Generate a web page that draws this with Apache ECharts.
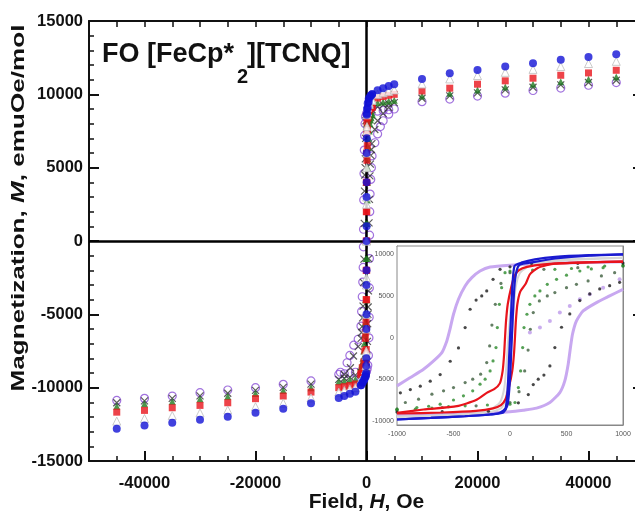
<!DOCTYPE html>
<html><head><meta charset="utf-8">
<script src="https://cdn.jsdelivr.net/npm/echarts@6/dist/echarts.min.js"></script>
<style>html,body{margin:0;padding:0;background:#fff}#c{width:635px;height:512px}</style>
</head><body><div id="c"></div><script>
// ---------- main chart: fields shared by all temperatures (Oe) ----------
const H_HIGH = [-45000,-40000,-35000,-30000,-25000,-20000,-15000,-10000,-5000,-4000,-3000,-2000,
                 2000,3000,4000,5000,10000,15000,20000,25000,30000,35000,40000,45000];
// magnetization at those fields (emuOe/mol)
const M_BLUE   = [-12800,-12580,-12400,-12190,-11990,-11710,-11440,-11070,-10700,-10560,-10420,-10280,
                   10280,10420,10560,10690,11050,11440,11660,11890,12120,12350,12550,12730];
const M_PALE   = [-12280,-12100,-11900,-11720,-11520,-11300,-11050,-10700,-10300,-10200,-10100,-10000,
                   10000,10100,10200,10300,10700,11050,11280,11500,11700,11900,12100,12250];
const M_RED    = [-11670,-11550,-11370,-11210,-11030,-10750,-10570,-10300,-10000,-9930,-9850,-9750,
                   9750,9850,9930,10000,10230,10420,10690,10920,11100,11300,11460,11640];
const M_GREEN  = [-11260,-11100,-10940,-10780,-10600,-10400,-10200,-10000,-9600,-9540,-9480,-9420,
                   9420,9480,9540,9600,9890,10080,10300,10500,10680,10850,11020,11190];
const M_BLACK  = [-11030,-10900,-10730,-10560,-10380,-10180,-9980,-9760,-9430,-9360,-9280,-9150,
                   9150,9280,9360,9430,9730,9900,10100,10300,10480,10650,10810,10960];
const M_PURPLE = [-10870,-10730,-10570,-10340,-10160,-10000,-9770,-9540,-9100,-9050,-9000,-8950,
                   8850,8900,8950,9000,9500,9680,9880,10080,10260,10430,10620,10800];
// return-branch points at intermediate fields [H, M]
const MID_PURPLE = [[1500,6700],[2000,7300],[2500,7800],[3000,8200],[4000,8650],
                    [-1500,-6700],[-2300,-7100],[-3000,-7800],[-3500,-8300],[-4700,-8950]];
const MID_BLACK  = [[1500,7600],[2000,8200],[3000,8700],[4000,9100],
                    [-1500,-7200],[-2350,-7840],[-2900,-8640],[-4000,-9100]];

// ---------- low-field loops (inset), [H, M] ----------
const LAV_UP = [[1000,9100],[600,9000],[300,8900],[0,8700],[-176,8480],[-265,8000],[-338,7200],[-397,6200],
  [-456,4600],[-500,2800],[-535,800],[-559,-400],[-603,-1800],[-676,-2800],[-765,-3800],[-882,-4800],[-1000,-5800]];
const LAV_DOWN = [[-1000,-9300],[-600,-9200],[-300,-9100],[0,-8900],[118,-8720],[235,-8480],[353,-7800],[441,-6600],
  [485,-5200],[515,-3200],[535,-1200],[553,400],[588,2000],[647,3200],[765,4200],[882,5000],[1000,5800]];
const LAV_SPARSE = [[176,600],[265,1200],[353,2000],[441,3000],[529,3800],[618,4600],[706,5200],[824,6000],[970,7000]];
const BLACK_UP = [[1000,8950],[600,8920],[191,8900],[0,8500],[-88,8200],[-150,7000],[-206,5600],[-250,5000],
  [-300,4500],[-353,3400],[-397,1200],[-456,-1240],[-529,-2840],[-618,-4440],[-706,-5240],[-794,-5840],[-882,-6240],[-970,-6640]];
const BLACK_DOWN = [[-1000,-8950],[-600,-8900],[-191,-8850],[-44,-8640],[74,-7840],[162,-6840],[206,-5640],[250,-5000],
  [300,-4500],[353,-3400],[397,-1200],[456,1240],[529,2840],[618,4440],[706,5240],[794,5840],[882,6240],[970,6640]];
const GREEN_UP = [[1000,8720],[838,8600],[691,8480],[544,8300],[397,8200],[200,8100],[0,8000],[-44,7800],[-74,6000],
  [-94,4000],[-112,1200],[-124,-1200],[-150,-2800],[-176,-4000],[-220,-5000],[-265,-5600],[-330,-6400],[-412,-7000],
  [-500,-7500],[-618,-8000],[-720,-8250],[-824,-8400],[-1000,-8600]];
const GREEN_DOWN = [[-1000,-8720],[-838,-8600],[-691,-8480],[-544,-8300],[-397,-8200],[-200,-8100],[0,-8000],[44,-7800],
  [74,-6000],[94,-4000],[112,-1200],[124,1200],[150,2800],[176,4000],[220,5000],[265,5600],[330,6400],[412,7000],
  [500,7500],[618,8000],[720,8250],[824,8400],[1000,8600]];
const GREEN2_UP = [[1000,8600],[600,8400],[300,8200],[0,7800],[-80,6500],[-130,4000],[-160,1500],[-180,-1000],[-206,-3000],
  [-260,-4400],[-330,-5000],[-397,-5400],[-500,-6000],[-588,-6400],[-691,-6800],[-809,-7400],[-926,-7800]];
const GREEN2_DOWN = [[-1000,-8600],[-600,-8400],[-300,-8200],[0,-7800],[80,-6500],[130,-4000],[160,-1500],[180,1000],[206,3000],
  [260,4400],[330,5000],[397,5400],[500,6000],[588,6400],[691,6800],[809,7400],[926,7800]];
const RED_UP = [[1000,9120],[600,9000],[300,8800],[150,8500],[80,8100],[40,7400],[10,6000],[-20,4000],[-35,2000],[-44,0],
  [-52,-2000],[-65,-4000],[-90,-5500],[-140,-6200],[-206,-6640],[-300,-7500],[-470,-8240],[-765,-8640],[-1000,-9040]];
const RED_DOWN = [[-1000,-9120],[-600,-9000],[-300,-8800],[-150,-8500],[-80,-8100],[-40,-7400],[-10,-6000],[20,-4000],[35,-2000],
  [44,0],[52,2000],[65,4000],[90,5500],[140,6500],[176,7600],[250,8400],[397,8880],[700,9050],[1000,9120]];
const PALE_UP = [[1000,9600],[500,9400],[200,9100],[80,8600],[40,7500],[15,5000],[0,2500],[-15,0],[-30,-3000],
  [-50,-6000],[-90,-7800],[-200,-8800],[-500,-9300],[-1000,-9500]];
const PALE_DOWN = [[-1000,-9500],[-500,-9300],[-200,-9000],[-80,-8500],[-40,-7500],[-15,-5000],[0,-2500],[15,0],[30,3000],
  [50,6000],[90,7800],[200,8800],[500,9300],[1000,9600]];
const BLUE_UP = [[1000,10000],[700,9900],[400,9700],[220,9400],[100,9000],[40,8600],[20,6000],[10,3000],[0,0],[-10,-3000],
  [-20,-6000],[-40,-8500],[-100,-9100],[-176,-9240],[-400,-9450],[-700,-9650],[-1000,-9840]];
const BLUE_DOWN = [[-1000,-9840],[-700,-9650],[-400,-9450],[-176,-9240],[-60,-9000],[-20,-8000],[0,-5000],[10,-2000],[20,1000],
  [30,4000],[45,7000],[80,8700],[220,9100],[400,9500],[700,9850],[1000,10000]];

// ---------- tick labels ----------
const X_MAJOR = [-40000,-20000,0,20000,40000];
const INSET_Y_LABELS = [-10000,-5000,0,5000,10000];
const INSET_Y_TICKS = [-10000,-9000,-8000,-7000,-6000,-5000,-4000,-3000,-2000,-1000,0,1000,2000,3000,4000,5000,6000,7000,8000,9000,10000,11000];

const FONT = '"Liberation Sans", Arial, Helvetica, sans-serif';
const plain = v => String(v);
function pairs(h, m) { return h.map((x, i) => [x, m[i]]); }
function mainData(m, mid, up, down) { return pairs(H_HIGH, m).concat(mid, up, down); }

const chart = echarts.init(document.getElementById('c'), null, {renderer: 'canvas'});

const mainSeriesDefs = [
  {data: mainData(M_PURPLE, MID_PURPLE, LAV_UP, LAV_DOWN), symbol: 'circle', size: 8,
   style: {color: 'rgba(255,255,255,0)', borderColor: '#8a4fd6', borderWidth: 1.2}},
  {data: mainData(M_BLACK, MID_BLACK, BLACK_UP, BLACK_DOWN), symbol: 'path://M0,0L10,10M10,0L0,10', size: 7,
   style: {color: 'rgba(0,0,0,0)', borderColor: '#333', borderWidth: 1.2}},
  {data: mainData(M_GREEN, [], GREEN_UP, GREEN_DOWN), symbol: 'triangle', size: 7,
   style: {color: '#1f7a1f'}},
  {data: mainData(M_RED, [], RED_UP, RED_DOWN), symbol: 'rect', size: 7,
   style: {color: '#e8141c'}},
  {data: mainData(M_PALE, [], PALE_UP, PALE_DOWN), symbol: 'triangle', size: 8,
   style: {color: '#ffffff', borderColor: '#bdbdbd', borderWidth: 1}},
  {data: mainData(M_BLUE, [], BLUE_UP, BLUE_DOWN), symbol: 'circle', size: 8,
   style: {color: '#1212d6'}}
];

const series = mainSeriesDefs.map((d, i) => ({
  type: 'scatter', xAxisIndex: 0, yAxisIndex: 0, data: d.data,
  symbol: d.symbol, symbolSize: d.size, itemStyle: d.style, z: 3 + i, silent: true
}));
series[0].markLine = {
  silent: true, symbol: 'none', label: {show: false}, animation: false,
  lineStyle: {color: '#000', width: 2.5, type: 'solid'},
  data: [{xAxis: 0}, {yAxis: 0}]
};

function insetLine(data, color, width, z) {
  return {type: 'line', xAxisIndex: 3, yAxisIndex: 2, data: data, showSymbol: false, symbol: 'none',
          lineStyle: {color: color, width: width}, z: z, silent: true, smooth: 0.2};
}
function insetDots(data, color, size, z) {
  return {type: 'scatter', xAxisIndex: 3, yAxisIndex: 2, data: data, symbol: 'circle',
          symbolSize: size, itemStyle: {color: color}, z: z, silent: true};
}
const insetSeries = [
  insetLine(LAV_UP, '#c8a8f0', 3, 20),
  insetLine(LAV_DOWN, '#c8a8f0', 3, 20),
  insetDots(LAV_SPARSE, '#bd98ea', 4, 21),
  insetLine(PALE_UP, '#d6d6d6', 2, 22),
  insetLine(PALE_DOWN, '#d6d6d6', 2, 22),
  insetDots(GREEN2_UP, '#3d5e3d', 3.2, 23),
  insetDots(GREEN2_DOWN, '#3d5e3d', 3.2, 23),
  insetDots(GREEN_UP, '#2a8a2a', 3.2, 24),
  insetDots(GREEN_DOWN, '#2a8a2a', 3.2, 24),
  insetDots(BLACK_UP, '#1a1a1a', 3.2, 25),
  insetDots(BLACK_DOWN, '#1a1a1a', 3.2, 25),
  insetLine(RED_UP, '#e8141c', 2.2, 26),
  insetLine(RED_DOWN, '#e8141c', 2.2, 26),
  insetLine(BLUE_UP, '#1a1ad0', 2.2, 27),
  insetLine(BLUE_DOWN, '#1a1ad0', 2.2, 27)
];
insetSeries[0].markLine = {
  silent: true, symbol: 'none', label: {show: false}, animation: false,
  lineStyle: {color: '#444', width: 1, type: 'solid'},
  data: [{xAxis: 0}, {yAxis: 0}]
};

const black = '#111';
const boldLbl = {fontFamily: FONT, fontWeight: 'bold', fontSize: 16.5, color: black, formatter: plain};
const insetLbl = {fontFamily: FONT, fontSize: 7, color: '#555', formatter: plain};
const insetLineStyle = {color: '#888', width: 1};

chart.setOption({
  animation: false,
  backgroundColor: '#fff',
  grid: [
    {left: 89, width: 555, top: 21, bottom: 51, outerBoundsMode: 'none', containLabel: false},
    {left: 397, top: 246, width: 226, height: 179, show: true, backgroundColor: '#fff',
     borderColor: '#888', borderWidth: 1, z: 10, outerBoundsMode: 'none', containLabel: false}
  ],
  xAxis: [
    {gridIndex: 0, type: 'value', min: -50000, max: 50000, position: 'bottom',
     axisLine: {show: true, onZero: false, lineStyle: {color: black, width: 2}},
     axisTick: {show: true, inside: true, length: 10, customValues: X_MAJOR, lineStyle: {color: black, width: 2}},
     axisLabel: Object.assign({customValues: X_MAJOR, margin: 14}, boldLbl),
     splitLine: {show: false},
     name: '{a|Field, }{i|H}{a|, Oe}', nameLocation: 'middle', nameGap: 31, nameMoveOverlap: false,
     nameTextStyle: {fontFamily: FONT, fontWeight: 'bold', fontSize: 21, color: black,
       rich: {a: {fontFamily: FONT, fontWeight: 'bold', fontSize: 21, color: black},
              i: {fontFamily: FONT, fontWeight: 'bold', fontStyle: 'italic', fontSize: 21, color: black}}}},
    {gridIndex: 0, type: 'value', min: -50000, max: 50000, interval: 5000, position: 'bottom',
     axisLine: {show: false, onZero: false},
     axisTick: {show: true, inside: true, length: 5, lineStyle: {color: black, width: 1.5}},
     axisLabel: {show: false}, splitLine: {show: false}},
    {gridIndex: 0, type: 'value', min: -50000, max: 50000, interval: 5000, position: 'top',
     axisLine: {show: true, onZero: false, lineStyle: {color: black, width: 2}},
     axisTick: {show: true, inside: true, length: 6, lineStyle: {color: black, width: 1.5}},
     axisLabel: {show: false}, splitLine: {show: false}},
    {gridIndex: 1, type: 'value', min: -1000, max: 1000, interval: 500, position: 'bottom',
     axisLine: {show: true, onZero: false, lineStyle: insetLineStyle},
     axisTick: {show: true, inside: true, length: 3, lineStyle: insetLineStyle},
     minorTick: {show: true, splitNumber: 5, length: 2, lineStyle: insetLineStyle},
     axisLabel: Object.assign({margin: 6}, insetLbl), splitLine: {show: false}},
    {gridIndex: 1, type: 'value', min: -1000, max: 1000, interval: 500, position: 'top',
     axisLine: {show: true, onZero: false, lineStyle: insetLineStyle},
     axisTick: {show: true, inside: true, length: 3, lineStyle: insetLineStyle},
     minorTick: {show: true, splitNumber: 5, length: 2, lineStyle: insetLineStyle},
     axisLabel: {show: false}, splitLine: {show: false}}
  ],
  yAxis: [
    {gridIndex: 0, type: 'value', min: -15000, max: 15000, interval: 5000, position: 'left',
     axisLine: {show: true, onZero: false, lineStyle: {color: black, width: 2}},
     axisTick: {show: true, inside: true, length: 10, lineStyle: {color: black, width: 2}},
     minorTick: {show: true, splitNumber: 5, length: 5, lineStyle: {color: black, width: 1.5}},
     axisLabel: Object.assign({margin: 6}, boldLbl),
     splitLine: {show: false}, minorSplitLine: {show: false}},
    {gridIndex: 0, type: 'value', min: -15000, max: 15000, interval: 5000, position: 'right',
     axisLine: {show: true, onZero: false, lineStyle: {color: black, width: 2}},
     axisTick: {show: true, inside: true, length: 11, lineStyle: {color: black, width: 2}},
     axisLabel: {show: false}, splitLine: {show: false}},
    {gridIndex: 1, type: 'value', min: -10500, max: 11000, position: 'left',
     axisLine: {show: true, onZero: false, lineStyle: insetLineStyle},
     axisTick: {show: true, inside: true, length: 2, customValues: INSET_Y_TICKS, lineStyle: insetLineStyle},
     axisLabel: Object.assign({margin: 3, customValues: INSET_Y_LABELS}, insetLbl),
     splitLine: {show: false}},
    {gridIndex: 1, type: 'value', min: -10500, max: 11000, position: 'right',
     axisLine: {show: true, onZero: false, lineStyle: insetLineStyle},
     axisTick: {show: true, inside: true, length: 2, customValues: INSET_Y_TICKS, lineStyle: insetLineStyle},
     axisLabel: {show: false}, splitLine: {show: false}}
  ],
  graphic: [
    {type: 'text', x: 19, y: 208, rotation: Math.PI / 2, scaleX: 1.45, z: 50,
     style: {text: '{a|Magnetization, }{i|M}{a|, emuOe/mol}', align: 'center', verticalAlign: 'middle',
       rich: {a: {fontFamily: FONT, fontWeight: 'bold', fontSize: 18, fill: black},
              i: {fontFamily: FONT, fontWeight: 'bold', fontStyle: 'italic', fontSize: 18, fill: black}}}},
    {type: 'text', x: 102, y: 55, z: 50,
     style: {text: 'FO [FeCp*', font: 'bold 27px ' + FONT, fill: black, align: 'left', verticalAlign: 'middle'}},
    {type: 'text', x: 237, y: 77.5, z: 50,
     style: {text: '2', font: 'bold 20px ' + FONT, fill: black, align: 'left', verticalAlign: 'middle'}},
    {type: 'text', x: 247, y: 55, z: 50,
     style: {text: '][TCNQ]', font: 'bold 27px ' + FONT, fill: black, align: 'left', verticalAlign: 'middle'}}
  ],
  series: series.concat(insetSeries)
});
</script></body></html>
